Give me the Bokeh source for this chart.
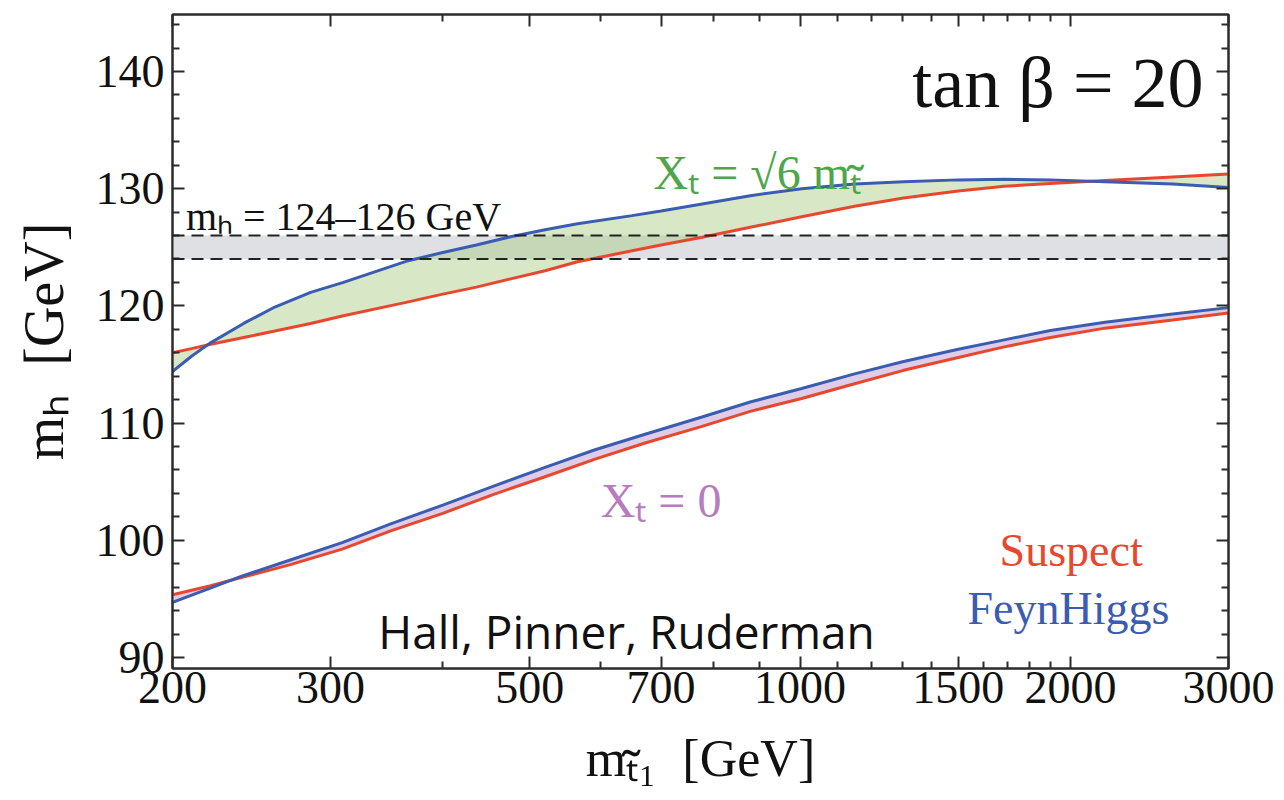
from bokeh.plotting import figure
from bokeh.models import (LogAxis, LinearAxis, FixedTicker, NumeralTickFormatter,
                          CustomJSTickFormatter, Label, BoxAnnotation, Span)
from bokeh.embed import file_html
from bokeh.resources import INLINE

# ---------------- data ----------------
x_major_ticks = [200, 300, 500, 700, 1000, 1500, 2000, 3000]
x_minor_ticks = [400, 600, 800, 900, 1100, 1200, 1300, 1400, 1600, 1700, 1800, 1900]
y_major_ticks = [90, 100, 110, 120, 130, 140]
y_minor_ticks = [92, 94, 96, 98, 102, 104, 106, 108, 112, 114, 116, 118,
                 122, 124, 126, 128, 132, 134, 136, 138, 142, 144]

# X_t = sqrt(6) m_stop
mstop_max = [200, 210, 220, 240, 260, 285, 310, 364, 400, 436, 476, 520, 565, 650,
             700, 778, 880, 1004, 1150, 1304, 1500, 1688, 1900, 2186, 2600, 3000]
mh_feynhiggs_max = [114.4, 115.7, 116.8, 118.5, 119.9, 121.15, 122.0, 123.8, 124.55,
                    125.2, 125.9, 126.5, 127.0, 127.7, 128.1, 128.7, 129.4, 130.0,
                    130.4, 130.6, 130.75, 130.8, 130.75, 130.6, 130.4, 130.1]
mh_suspect_max = [116.0, 116.35, 116.7, 117.3, 117.85, 118.5, 119.15, 120.3, 121.0,
                  121.6, 122.3, 123.0, 123.76, 124.7, 125.2, 125.85, 126.7, 127.6,
                  128.5, 129.2, 129.8, 130.2, 130.45, 130.7, 131.0, 131.25]

# X_t = 0
mstop_zero = [200, 220, 238, 270, 309, 350, 400, 455, 519, 590, 672, 776, 880, 1004,
              1150, 1304, 1500, 1688, 1900, 2186, 2600, 3000]
mh_feynhiggs_zero = [94.7, 95.9, 96.9, 98.3, 99.8, 101.4, 103.0, 104.6, 106.2, 107.7,
                     109.05, 110.5, 111.8, 112.95, 114.2, 115.25, 116.3, 117.1, 117.9,
                     118.6, 119.3, 119.85]
mh_suspect_zero = [95.35, 96.1, 96.8, 97.9, 99.25, 100.8, 102.3, 103.9, 105.4, 106.9,
                   108.3, 109.7, 111.0, 112.1, 113.35, 114.5, 115.6, 116.5, 117.3,
                   118.1, 118.8, 119.4]

mh_band = [124, 126]

# ---------------- styling ----------------
RED = "#e8472d"
BLUE = "#3a5cb2"
GREEN_TXT = "#4ea64a"
PURPLE_TXT = "#b77cc0"
FRAME = "#2b2b2b"
SERIF = "Liberation Serif"

p = figure(width=1284, height=800, x_axis_type="log",
           x_range=(200, 3000), y_range=(89.06, 144.86),
           output_backend="svg", toolbar_location=None,
           min_border_left=172, min_border_right=56,
           min_border_top=14, min_border_bottom=132)
p.grid.visible = False
p.outline_line_color = FRAME
p.outline_line_width = 2
p.background_fill_color = "white"
p.border_fill_color = "white"

def style_axis(ax, major, minor, hide_labels=False):
    ax.ticker = FixedTicker(ticks=major, minor_ticks=minor)
    ax.major_tick_in = 12
    ax.major_tick_out = 0
    ax.minor_tick_in = 7
    ax.minor_tick_out = 0
    ax.axis_line_color = FRAME
    ax.axis_line_width = 2
    ax.major_tick_line_color = FRAME
    ax.major_tick_line_width = 2
    ax.minor_tick_line_color = FRAME
    ax.minor_tick_line_width = 2
    if hide_labels:
        ax.formatter = CustomJSTickFormatter(code="return ''")
        ax.major_label_text_font_size = "1px"
        ax.major_label_standoff = 0
    else:
        ax.formatter = NumeralTickFormatter(format="0")
        ax.major_label_text_font = SERIF
        ax.major_label_text_font_size = "46px"
        ax.major_label_text_color = "#111111"

# bottom x axis
xa = p.xaxis[0]
style_axis(xa, x_major_ticks, x_minor_ticks)
xa.major_label_standoff = 3
xa.axis_label = "m\u209c\u0303\u2081\u2002[GeV]"
xa.axis_label_text_font = SERIF
xa.axis_label_text_font_size = "52px"
xa.axis_label_text_font_style = "normal"
xa.axis_label_text_color = "#111111"
xa.axis_label_standoff = 24

# left y axis
ya = p.yaxis[0]
style_axis(ya, y_major_ticks, y_minor_ticks)
ya.major_label_standoff = 8
ya.axis_label = "m\u2095\u2002[GeV]"
ya.axis_label_text_font = SERIF
ya.axis_label_text_font_size = "56px"
ya.axis_label_text_font_style = "normal"
ya.axis_label_text_color = "#111111"
ya.axis_label_standoff = 18

# mirrored axes (ticks only)
top_ax = LogAxis()
style_axis(top_ax, x_major_ticks, x_minor_ticks, hide_labels=True)
p.add_layout(top_ax, "above")
right_ax = LinearAxis()
style_axis(right_ax, y_major_ticks, y_minor_ticks, hide_labels=True)
p.add_layout(right_ax, "right")

# m_h band
p.add_layout(BoxAnnotation(bottom=mh_band[0], top=mh_band[1], fill_color="#dfe0e3",
                           fill_alpha=1.0, line_color=None, level="underlay"))

# filled regions
p.varea(x=mstop_max, y1=mh_feynhiggs_max, y2=mh_suspect_max,
        fill_color="#a9cd82", fill_alpha=0.45)
p.varea(x=mstop_zero, y1=mh_feynhiggs_zero, y2=mh_suspect_zero,
        fill_color="#dcc8e6", fill_alpha=0.9)

for loc in mh_band:
    p.add_layout(Span(location=loc, dimension="width", line_color="#222222",
                      line_width=2, line_dash="12 7"))

# curves
p.line(mstop_max, mh_suspect_max, line_color=RED, line_width=3)
p.line(mstop_zero, mh_suspect_zero, line_color=RED, line_width=3)
p.line(mstop_max, mh_feynhiggs_max, line_color=BLUE, line_width=3)
p.line(mstop_zero, mh_feynhiggs_zero, line_color=BLUE, line_width=3)

# annotations
def add_label(x, y, text, size, color="#111111", align="left", font=SERIF, style="normal"):
    p.add_layout(Label(x=x, y=y, text=text, text_font=font, text_font_size=size,
                       text_color=color, text_align=align, text_baseline="alphabetic",
                       text_font_style=style))

add_label(2814, 139.0, "tan \u03b2 = 20", "72px", align="right")
add_label(896, 131.4, "X\u209c = \u221a6 m\u209c\u0303", "48px", color=GREEN_TXT, align="center")
add_label(207, 127.6, "m\u2095 = 124\u2013126 GeV", "40px")
add_label(700, 103.4, "X\u209c = 0", "48px", color=PURPLE_TXT, align="center")
add_label(2004, 99.1, "Suspect", "46px", color=RED, align="center")
add_label(1990, 94.2, "FeynHiggs", "46px", color=BLUE, align="center")
add_label(339, 92.3, "Hall, Pinner, Ruderman", "46px", font="Open Sans")

open("out.html", "w").write(file_html(p, INLINE))
